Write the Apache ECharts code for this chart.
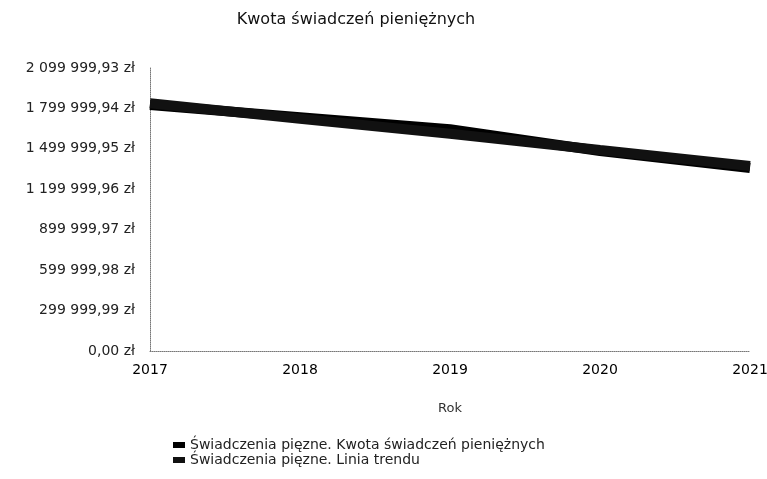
<!DOCTYPE html>
<html>
<head>
<meta charset="utf-8">
<script src="https://cdn.jsdelivr.net/npm/echarts@6/dist/echarts.min.js"></script>
<style>
html,body{margin:0;padding:0;background:#fff;}
#chart{width:767px;height:479px;}
</style>
</head>
<body>
<div id="chart"></div>
<script>
// dane
var years = ['2017', '2018', '2019', '2020', '2021'];
var kwota = [1825000, 1735000, 1645000, 1484000, 1358000];
var trend = [1838000, 1723000, 1612000, 1492000, 1373000];
var seriesNames = ['Świadczenia pięzne. Kwota świadczeń pieniężnych', 'Świadczenia pięzne. Linia trendu'];

function fmtZl(v) {
	var s = Math.abs(v).toFixed(2).split('.');
	var intPart = s[0].replace(/\B(?=(\d{3})+(?!\d))/g, ' ');
	return intPart + ',' + s[1] + ' zł';
}

var myChart = echarts.init(document.getElementById('chart'));
var option = {
	backgroundColor: '#fff',
	animation: false,
	title: {
		text: 'Kwota świadczeń pieniężnych',
		left: 351,
		top: 7,
		textAlign: 'center',
		textStyle: { fontFamily: 'DejaVu Sans', fontSize: 16, fontWeight: 'normal', color: '#111' }
	},
	legend: {
		orient: 'vertical',
		left: 168,
		top: 433,
		itemGap: 1,
		itemWidth: 12,
		itemHeight: 6,
		icon: 'rect',
		textStyle: { fontFamily: 'DejaVu Sans', fontSize: 14, color: '#222' },
		data: seriesNames
	},
	grid: { left: 150, right: 17, top: 68, bottom: 128, outerBoundsMode: 'none' },
	xAxis: {
		type: 'category',
		data: years,
		boundaryGap: false,
		name: 'Rok',
		nameLocation: 'middle',
		nameGap: 51,
		nameTextStyle: { fontFamily: 'DejaVu Sans', fontSize: 13, color: '#333' },
		axisLine: { lineStyle: { color: '#777', type: 'dotted', width: 1 } },
		axisTick: { show: false },
		axisLabel: { fontFamily: 'DejaVu Sans', fontSize: 14, color: '#000', margin: 12 },
		splitLine: { show: false }
	},
	yAxis: {
		type: 'value',
		min: 0,
		max: 2099999.93,
		interval: 299999.99,
		axisLine: { show: true, lineStyle: { color: '#777', type: 'dotted', width: 1 } },
		axisTick: { show: false },
		axisLabel: { fontFamily: 'DejaVu Sans', fontSize: 14, color: '#222', margin: 15, formatter: fmtZl },
		splitLine: { show: false }
	},
	series: [{
		name: seriesNames[0],
		type: 'line',
		data: kwota,
		symbol: 'none',
		itemStyle: { color: '#000' },
		lineStyle: { color: '#000', width: 10 }
	}, {
		name: seriesNames[1],
		type: 'line',
		data: trend,
		symbol: 'none',
		itemStyle: { color: '#111' },
		lineStyle: { color: '#111', width: 10 }
	}]
};
myChart.setOption(option);
</script>
</body>
</html>
